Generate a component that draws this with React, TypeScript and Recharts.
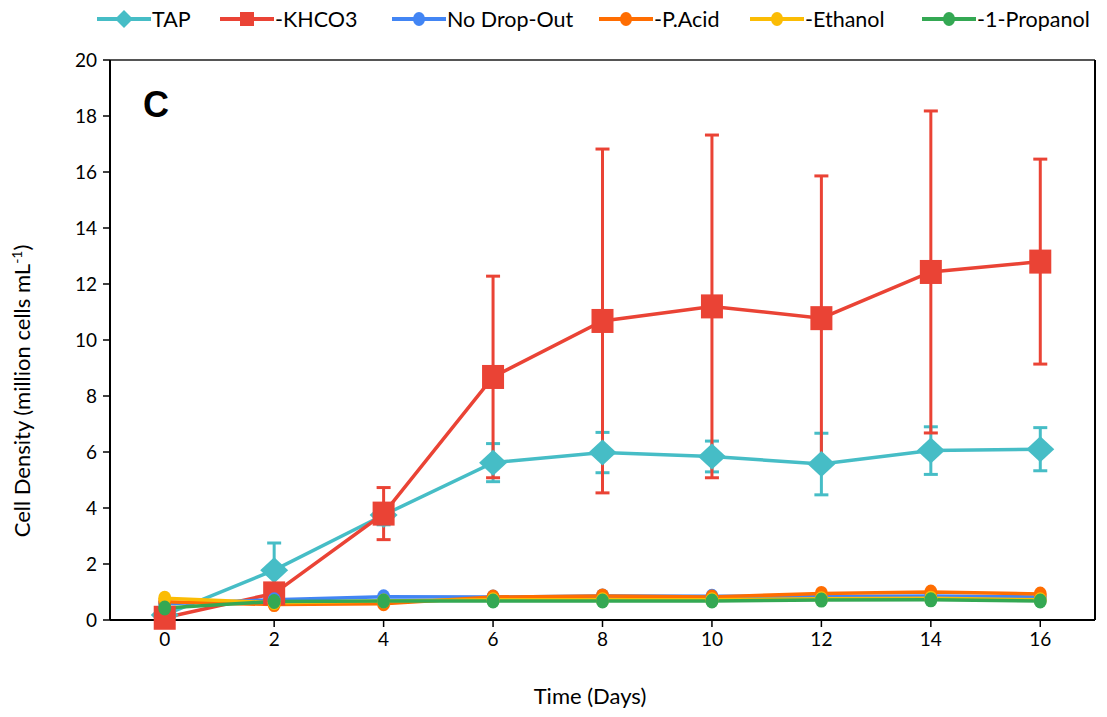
import React from "react";
import {
  LineChart,
  Line,
  XAxis,
  YAxis,
  ErrorBar,
  ReferenceLine,
} from "recharts";

const days = [0, 2, 4, 6, 8, 10, 12, 14, 16];

const tap = [0.18, 1.78, 3.75, 5.62, 5.98, 5.84, 5.57, 6.05, 6.1];
const tapErr = [0.15, 0.97, 0.35, 0.68, 0.72, 0.55, 1.1, 0.85, 0.77];
const khco3 = [0.08, 0.95, 3.8, 8.68, 10.68, 11.2, 10.78, 12.43, 12.8];
const khco3Err = [0.05, 0.3, 0.93, 3.6, 6.14, 6.12, 5.08, 5.75, 3.66];
const noDropOut = [0.58, 0.72, 0.83, 0.82, 0.86, 0.85, 0.84, 0.86, 0.82];
const pAcid = [0.65, 0.55, 0.58, 0.82, 0.86, 0.82, 0.95, 1.0, 0.93];
const ethanol = [0.78, 0.62, 0.68, 0.72, 0.72, 0.72, 0.76, 0.78, 0.72];
const propanol = [0.43, 0.66, 0.68, 0.68, 0.68, 0.68, 0.71, 0.72, 0.68];

const yTicks = [0, 2, 4, 6, 8, 10, 12, 14, 16, 18, 20];

const data = days.map((d, i) => ({
  day: d,
  tap: tap[i],
  tapErr: tapErr[i],
  khco3: khco3[i],
  khco3Err: khco3Err[i],
  noDropOut: noDropOut[i],
  pAcid: pAcid[i],
  ethanol: ethanol[i],
  propanol: propanol[i],
}));

const C = {
  teal: "#46BDC6",
  red: "#EA4335",
  blue: "#4285F4",
  orange: "#FF6D01",
  yellow: "#FBBC04",
  green: "#34A853",
};

const FONT = "Lato, 'Open Sans', sans-serif";

const Diamond = (color: string) => (p: any) => {
  const { cx, cy } = p;
  if (cx == null || cy == null) return <g key={p.index} />;
  return (
    <path
      key={p.index}
      d={`M${cx},${cy - 13} L${cx + 14},${cy} L${cx},${cy + 13} L${cx - 14},${cy} Z`}
      fill={color}
    />
  );
};

const Square = (color: string) => (p: any) => {
  const { cx, cy } = p;
  if (cx == null || cy == null) return <g key={p.index} />;
  return <rect key={p.index} x={cx - 11} y={cy - 12} width={22} height={24} fill={color} />;
};

const Circle = (color: string) => (p: any) => {
  const { cx, cy } = p;
  if (cx == null || cy == null) return <g key={p.index} />;
  return <ellipse key={p.index} cx={cx} cy={cy} rx={6.5} ry={7.5} fill={color} />;
};

const legendItems = [
  { name: "TAP", color: C.teal, shape: "diamond", left: 97 },
  { name: "-KHCO3", color: C.red, shape: "square", left: 220 },
  { name: "No Drop-Out", color: C.blue, shape: "circle", left: 392 },
  { name: "-P.Acid", color: C.orange, shape: "circle", left: 599 },
  { name: "-Ethanol", color: C.yellow, shape: "circle", left: 750 },
  { name: "-1-Propanol", color: C.green, shape: "circle", left: 922 },
];

function LegendMark({ color, shape }: { color: string; shape: string }) {
  return (
    <svg width={54} height={20} style={{ display: "block" }}>
      <line x1={0} y1={10} x2={54} y2={10} stroke={color} strokeWidth={4} />
      {shape === "diamond" && <path d="M27,1 L36,10 L27,19 L18,10 Z" fill={color} />}
      {shape === "square" && <rect x={20} y={3} width={14} height={14} fill={color} />}
      {shape === "circle" && <ellipse cx={27} cy={10} rx={6} ry={7} fill={color} />}
    </svg>
  );
}

export default function App() {
  const tickStyle = { fill: "#000", fontSize: 19, fontFamily: FONT };
  return (
    <div style={{ position: "absolute", left: 0, top: 0, width: 1107, height: 717, background: "#fff" }}>
      {legendItems.map((it) => (
        <div
          key={it.name}
          style={{
            position: "absolute",
            left: it.left,
            top: 6,
            display: "flex",
            alignItems: "center",
            fontFamily: FONT,
            fontSize: 21.5,
            color: "#000",
            whiteSpace: "nowrap",
          }}
        >
          <LegendMark color={it.color} shape={it.shape} />
          <span style={{ marginLeft: 1 }}>{it.name}</span>
        </div>
      ))}
      <LineChart width={1107} height={717} data={data} margin={{ top: 60, right: 12, bottom: 0, left: 0 }}>
        <XAxis
          dataKey="day"
          type="number"
          domain={[-1, 17]}
          ticks={days}
          height={97}
          tick={tickStyle}
          tickSize={7}
          tickMargin={6}
          axisLine={{ stroke: "#000", strokeWidth: 2 }}
          tickLine={{ stroke: "#000", strokeWidth: 1.5 }}
          allowDataOverflow
        />
        <YAxis
          type="number"
          domain={[0, 20]}
          ticks={yTicks}
          width={110}
          tick={tickStyle}
          tickSize={7}
          tickMargin={6}
          axisLine={{ stroke: "#000", strokeWidth: 2 }}
          tickLine={{ stroke: "#000", strokeWidth: 1.5 }}
          interval={0}
        />
        <ReferenceLine y={20} stroke="#555" strokeWidth={2} />
        <ReferenceLine x={17} stroke="#000" strokeWidth={2} />
        <Line
          dataKey="tap"
          stroke={C.teal}
          strokeWidth={3.5}
          dot={Diamond(C.teal)}
          isAnimationActive={false}
        >
          <ErrorBar dataKey="tapErr" width={7} strokeWidth={3} stroke={C.teal} direction="y" />
        </Line>
        <Line
          dataKey="khco3"
          stroke={C.red}
          strokeWidth={3.5}
          dot={Square(C.red)}
          isAnimationActive={false}
        >
          <ErrorBar dataKey="khco3Err" width={7} strokeWidth={3} stroke={C.red} direction="y" />
        </Line>
        <Line dataKey="noDropOut" stroke={C.blue} strokeWidth={3.5} dot={Circle(C.blue)} isAnimationActive={false} />
        <Line dataKey="pAcid" stroke={C.orange} strokeWidth={3.5} dot={Circle(C.orange)} isAnimationActive={false} />
        <Line dataKey="ethanol" stroke={C.yellow} strokeWidth={3.5} dot={Circle(C.yellow)} isAnimationActive={false} />
        <Line dataKey="propanol" stroke={C.green} strokeWidth={3.5} dot={Circle(C.green)} isAnimationActive={false} />
        <text x={143} y={117} fontFamily="'Liberation Sans', Arial, sans-serif" fontWeight="bold" fontSize={36}>
          C
        </text>
        <text
          x={0}
          y={0}
          transform="translate(30, 391) rotate(-90)"
          textAnchor="middle"
          fontFamily={FONT}
          fontSize={22}
        >
          Cell Density (million cells mL<tspan baselineShift="super" fontSize={14}>-1</tspan>
          <tspan baselineShift="0">)</tspan>
        </text>
        <text x={590} y={704} textAnchor="middle" fontFamily={FONT} fontSize={22}>
          Time (Days)
        </text>
      </LineChart>
    </div>
  );
}
